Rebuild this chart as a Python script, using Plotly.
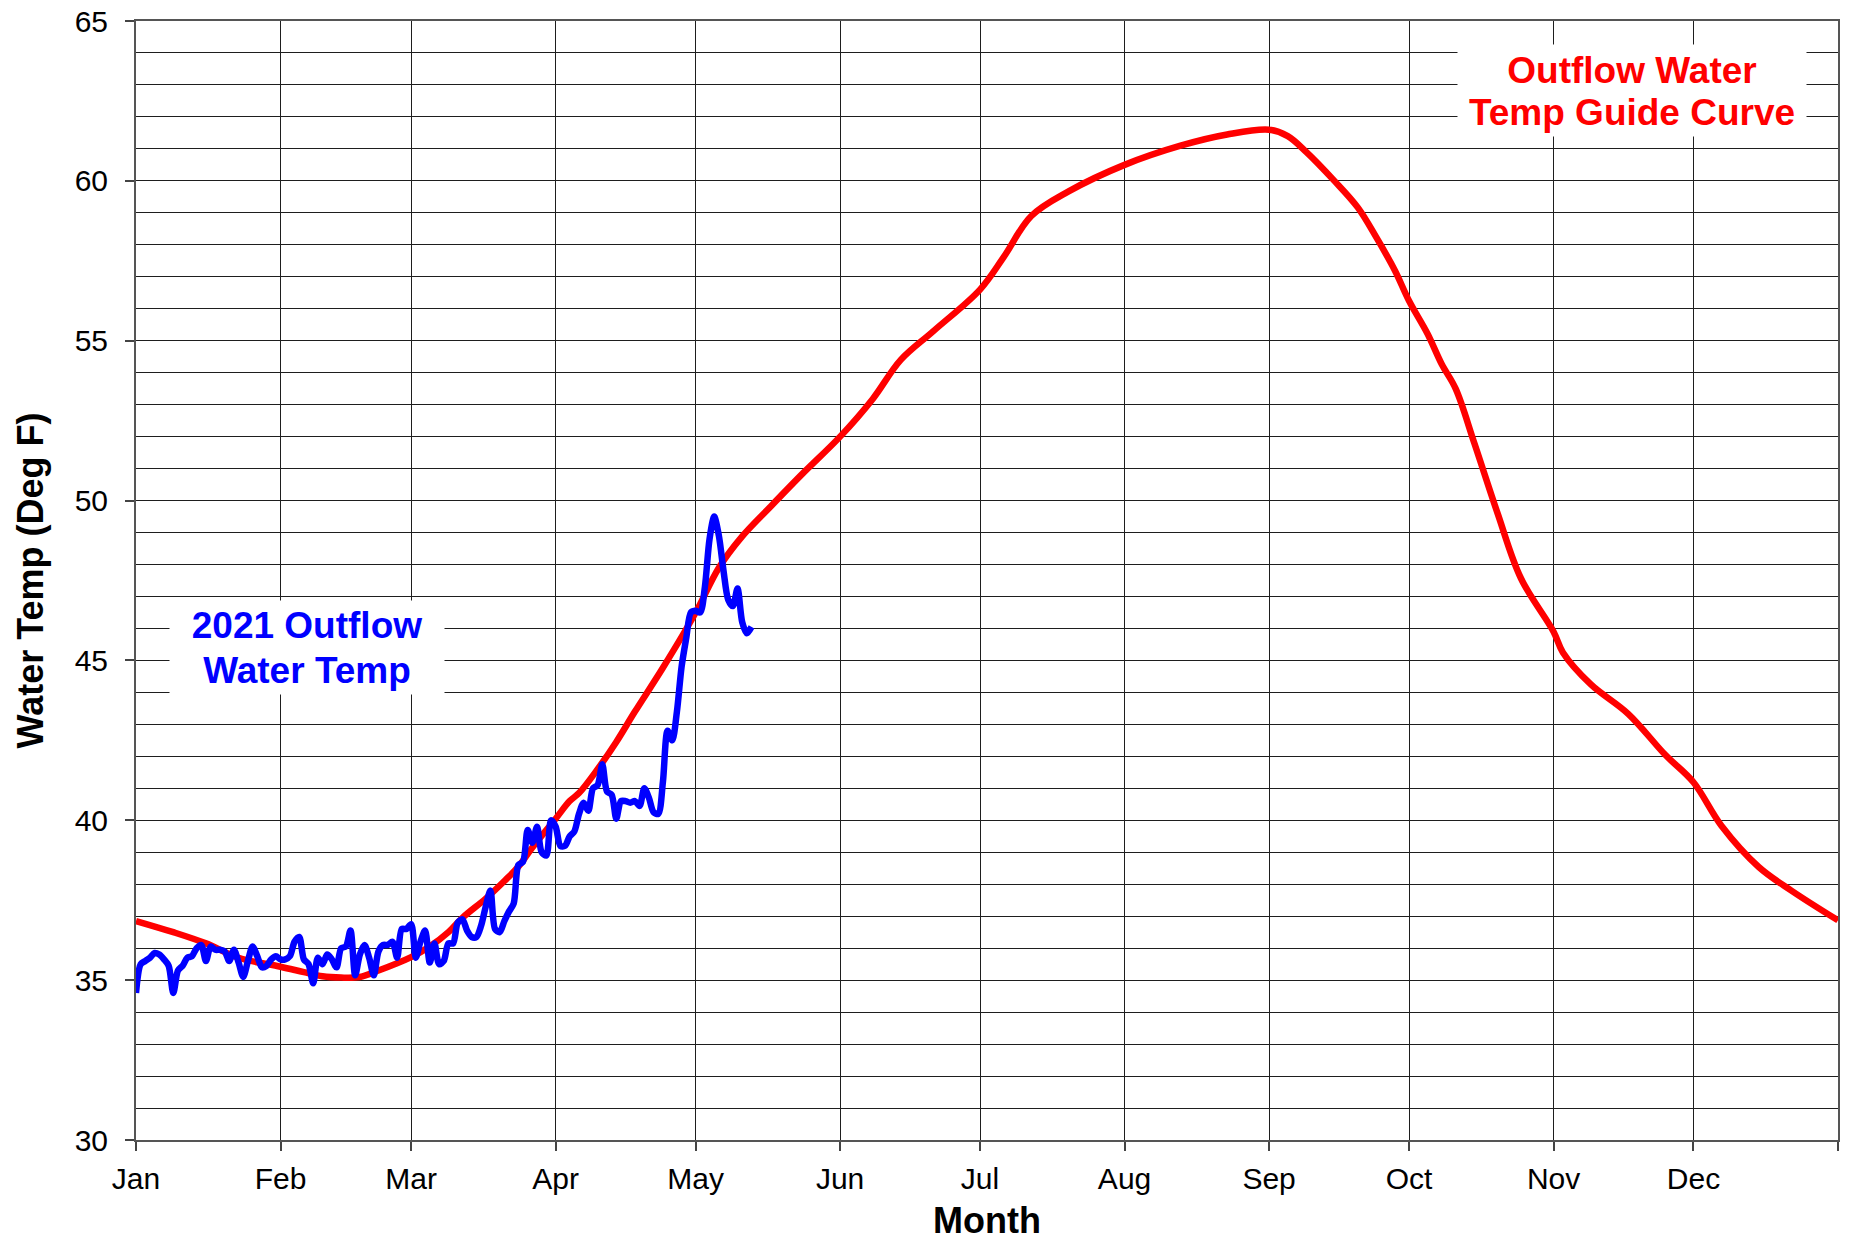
import plotly.graph_objects as go

# ---- axis categories ----
month_names = ["Jan", "Feb", "Mar", "Apr", "May", "Jun",
               "Jul", "Aug", "Sep", "Oct", "Nov", "Dec"]
month_start_days = [0, 31, 59, 90, 120, 151, 181, 212, 243, 273, 304, 334]
year_end_day = 365
y_tick_values = [30, 35, 40, 45, 50, 55, 60, 65]

# ---- Outflow Water Temp Guide Curve (day of year, deg F) ----
guide_days = [0, 8, 15, 22, 31, 36, 40, 44, 48, 52, 59, 63, 67, 70, 75, 79, 82, 85,
              90, 93, 95, 99, 103, 107, 113, 120, 125, 130, 136, 143, 151, 158, 164,
              171, 181, 186, 192, 200, 212, 224, 234, 243, 247, 251, 257, 262, 266,
              270, 273, 277, 280, 283, 287, 292, 297, 304, 306, 312, 320, 328, 334,
              340, 348, 355, 365]
guide_temp = [36.85, 36.5, 36.15, 35.7, 35.42, 35.25, 35.12, 35.08, 35.1, 35.3, 35.72,
              36.05, 36.5, 36.95, 37.55, 38.1, 38.55, 39.15, 40.05, 40.6, 40.85, 41.6,
              42.45, 43.4, 44.77, 46.49, 47.9, 48.88, 49.8, 50.85, 52.0, 53.18, 54.4,
              55.3, 56.6, 57.6, 58.9, 59.67, 60.5, 61.1, 61.45, 61.6, 61.4, 60.9, 60.0,
              59.17, 58.23, 57.19, 56.25, 55.21, 54.27, 53.5, 51.8, 49.6, 47.57, 45.9,
              45.25, 44.25, 43.33, 42.04, 41.19, 39.83, 38.54, 37.8, 36.87]

# ---- 2021 Outflow Water Temp (daily, from Jan 1) ----
obs_temp = [34.6, 35.5, 35.6, 35.7, 35.85, 35.8, 35.65, 35.45, 34.6, 35.3,
            35.45, 35.7, 35.75, 36.0, 36.1, 35.6, 36.05, 35.95, 35.95, 35.9,
            35.6, 35.95, 35.55, 35.1, 35.6, 36.05, 35.75, 35.4, 35.45, 35.65,
            35.75, 35.65, 35.65, 35.75, 36.2, 36.35, 35.65, 35.5, 34.9, 35.7,
            35.5, 35.8, 35.65, 35.4, 36.0, 36.05, 36.55, 35.15, 35.8, 36.1,
            35.7, 35.15, 35.9, 36.1, 36.1, 36.2, 35.7, 36.6, 36.6, 36.75,
            35.7, 36.2, 36.55, 35.55, 36.15, 35.5, 35.6, 36.15, 36.15, 36.8,
            36.9, 36.55, 36.35, 36.35, 36.7, 37.3, 37.8, 36.6, 36.5, 36.85,
            37.15, 37.4, 38.6, 38.7, 39.7, 39.3, 39.8, 39.0, 38.9, 40.0,
            39.8, 39.2, 39.2, 39.5, 39.65, 40.2, 40.55, 40.3, 41.0, 41.1,
            41.75, 40.9, 40.8, 40.05, 40.6, 40.6, 40.55, 40.6, 40.45, 41.0,
            40.7, 40.25, 40.2, 41.2, 42.8, 42.5, 43.4, 44.8, 45.7, 46.5,
            46.55, 46.5, 47.3, 48.8, 49.5, 48.9, 47.8, 46.9, 46.7, 47.25,
            46.2, 45.85, 46.05]
obs_days = list(range(len(obs_temp)))

# ---- label texts ----
guide_label_lines = ["Outflow Water", "Temp Guide Curve"]
obs_label_lines = ["2021 Outflow", "Water Temp"]

FONT = "Liberation Sans, Arial, Helvetica, sans-serif"
GRID = "#1e1e1e"

fig = go.Figure()
fig.add_trace(go.Scatter(
    x=guide_days, y=guide_temp, mode="lines",
    line=dict(color="#ff0000", width=6.5, shape="spline", smoothing=1.0),
    name="Outflow Water Temp Guide Curve", hoverinfo="x+y"))
fig.add_trace(go.Scatter(
    x=obs_days, y=obs_temp, mode="lines",
    line=dict(color="#0000ff", width=6.5, shape="spline", smoothing=0.8),
    name="2021 Outflow Water Temp", hoverinfo="x+y"))


def label(text, x, y, color, width, height):
    return dict(x=x, y=y, xref="x", yref="y", text="<b>%s</b>" % text,
                showarrow=False, align="center", valign="middle",
                font=dict(size=37, family=FONT, color=color),
                bgcolor="white", borderpad=0, width=width, height=height)


fig.update_layout(
    width=1850, height=1241,
    margin=dict(l=136, r=12, t=21, b=101, pad=0, autoexpand=False),
    paper_bgcolor="white", plot_bgcolor="white",
    showlegend=False,
    font=dict(family=FONT, color="black", size=30),
    xaxis=dict(
        range=[0, year_end_day], automargin=False,
        tickmode="array",
        tickvals=month_start_days + [year_end_day],
        ticktext=month_names + [""],
        ticks="outside", ticklen=9, tickwidth=1.5, tickcolor="#444",
        ticklabelstandoff=2,
        showgrid=True, gridcolor=GRID, gridwidth=1.3,
        showline=True, linecolor="#555", linewidth=2, mirror=True,
        zeroline=False,
        tickfont=dict(size=30, family=FONT, color="black"),
        title=dict(text="<b>Month</b>", font=dict(size=36, family=FONT, color="black"),
                   standoff=21),
    ),
    yaxis=dict(
        range=[30, 65], automargin=False,
        tickmode="array", tickvals=y_tick_values,
        ticks="outside", ticklen=9, tickwidth=1.5, tickcolor="#444",
        ticklabelstandoff=11,
        showgrid=True, gridcolor=GRID, gridwidth=1.3,
        minor=dict(dtick=1, showgrid=True, gridcolor=GRID, gridwidth=1.3, ticks=""),
        showline=True, linecolor="#555", linewidth=2, mirror=True,
        zeroline=False,
        tickfont=dict(size=30, family=FONT, color="black"),
        title=dict(text="<b>Water Temp (Deg F)</b>",
                   font=dict(size=36, family=FONT, color="black"), standoff=20),
    ),
    annotations=[
        label(guide_label_lines[0], 320.8, 63.47, "#ff0000", 348, 50),
        label(guide_label_lines[1], 320.8, 62.14, "#ff0000", 348, 47),
        label(obs_label_lines[0], 36.7, 46.12, "#0000ff", 274, 48),
        label(obs_label_lines[1], 36.7, 44.70, "#0000ff", 274, 47),
    ],
)

fig.write_html("out.html",
               config={"displayModeBar": False},
               post_script="document.body.style.margin='0';document.body.style.overflow='hidden';")
